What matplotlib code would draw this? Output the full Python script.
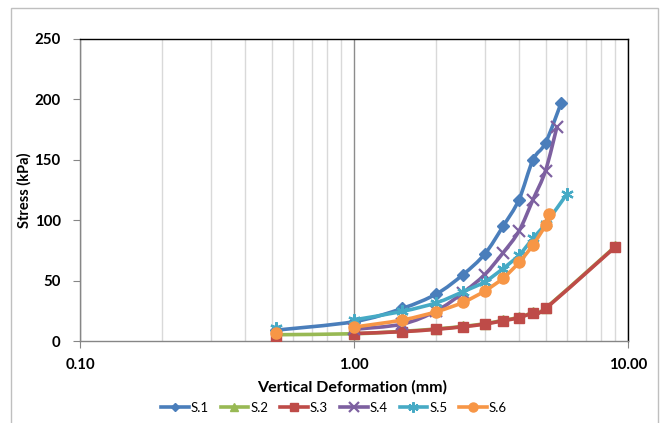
import numpy as np
import matplotlib
matplotlib.use("Agg")
import matplotlib.pyplot as plt
from matplotlib.path import Path
from matplotlib.patches import PathPatch, Rectangle
from matplotlib.lines import Line2D
from matplotlib.ticker import FixedLocator, FixedFormatter, LogLocator, NullFormatter

# ---------------- data ----------------
series_names = ["S.1", "S.2", "S.3", "S.4", "S.5", "S.6"]

s1_x = [0.52, 1.0, 1.5, 2.0, 2.5, 3.0, 3.5, 4.0, 4.5, 5.0, 5.7]
s1_y = [9, 16, 27, 39, 55, 72, 95, 117, 150, 164, 197]

s2_x = [0.52, 1.0, 1.5, 2.0, 2.5, 3.0, 3.5, 4.0, 4.5, 5.0, 9.0]
s2_y = [5.2, 6.0, 8.0, 10.0, 12.1, 14.3, 17.1, 19.6, 23.7, 27.3, 78.4]

s3_x = [0.52, 1.0, 1.5, 2.0, 2.5, 3.0, 3.5, 4.0, 4.5, 5.0, 9.0]
s3_y = [3.5, 6.2, 7.7, 9.7, 11.8, 14.0, 16.8, 19.3, 23.4, 27.0, 78.0]

s4_x = [1.0, 1.5, 2.0, 2.5, 3.0, 3.5, 4.0, 4.5, 5.0, 5.5]
s4_y = [9.7, 14, 25, 40, 55, 73, 91, 117, 141, 177]

s5_x = [0.52, 1.0, 1.5, 2.0, 2.5, 3.0, 3.5, 4.0, 4.5, 5.0, 6.0]
s5_y = [10.5, 17.5, 24.5, 31.7, 40.8, 49, 60, 71, 85, 97, 122]

s6_x = [0.52, 1.0, 1.5, 2.0, 2.5, 3.0, 3.5, 4.0, 4.5, 5.0, 5.15]
s6_y = [6.5, 11.5, 17.4, 24.3, 32, 41.4, 52, 65, 79.5, 96, 105]

# first point index from which the line is drawn (markers before it stand alone)
line_start = [0, 0, 1, 0, 1, 1]

x_ticks = [0.1, 1.0, 10.0]
x_tick_labels = ["0.10", "1.00", "10.00"]
y_ticks = [0, 50, 100, 150, 200, 250]

# ---------------- styling ----------------
colors = ["#4A7EBB", "#98B954", "#BE4B48", "#7D60A0", "#46AAC5", "#F79646"]
markers = ["D", "^", "s", "x", (6, 2, 0), "o"]
msizes = [6, 7, 7, 8, 9, 8]

plt.rcParams["font.family"] = ["Lato", "DejaVu Sans"]

W, H = 661, 423
fig = plt.figure(figsize=(W / 100, H / 100), dpi=100)
fig.patch.set_facecolor("white")

left, right, top, bottom = 80, 628, 39, 341
ax = fig.add_axes([left / W, 1 - bottom / H, (right - left) / W, (bottom - top) / H])

ax.set_xscale("log")
ax.set_xlim(0.1, 10)
ax.set_ylim(0, 250)


def smooth_path(xs, ys):
    lx = np.log10(np.asarray(xs, float))
    pts = np.column_stack([lx, np.asarray(ys, float)])
    n = len(pts)
    verts = [pts[0]]
    codes = [Path.MOVETO]
    for i in range(n - 1):
        p0 = pts[i - 1] if i > 0 else pts[i]
        p1 = pts[i]
        p2 = pts[i + 1]
        p3 = pts[i + 2] if i + 2 < n else pts[i + 1]
        c1 = p1 + (p2 - p0) / 6.0
        c2 = p2 - (p3 - p1) / 6.0
        verts += [c1, c2, p2]
        codes += [Path.CURVE4] * 3
    verts = np.array(verts)
    verts[:, 0] = 10 ** verts[:, 0]
    return Path(verts, codes)


all_x = [s1_x, s2_x, s3_x, s4_x, s5_x, s6_x]
all_y = [s1_y, s2_y, s3_y, s4_y, s5_y, s6_y]

handles = []
for k in range(6):
    xs, ys = all_x[k], all_y[k]
    st = line_start[k]
    p = smooth_path(xs[st:], ys[st:])
    ax.add_patch(PathPatch(p, facecolor="none", edgecolor=colors[k], lw=2.6,
                           zorder=3 + k * 0.1, capstyle="round", joinstyle="round"))
    mew = 1.6 if markers[k] in ("x",) or isinstance(markers[k], tuple) else 1.0
    ax.plot(xs, ys, linestyle="none", marker=markers[k], ms=msizes[k],
            color=colors[k], mec=colors[k], mew=mew, zorder=3.05 + k * 0.1)
    handles.append(Line2D([], [], color=colors[k], lw=2.6, marker=markers[k],
                          ms=msizes[k] - 1.5, mew=mew))

# grid
ax.xaxis.set_major_locator(FixedLocator(x_ticks))
ax.xaxis.set_major_formatter(FixedFormatter(x_tick_labels))
ax.xaxis.set_minor_locator(LogLocator(base=10, subs=np.arange(2, 10)))
ax.xaxis.set_minor_formatter(NullFormatter())
ax.set_yticks(y_ticks)
ax.grid(which="minor", axis="x", color="#D9D9D9", lw=1.0, zorder=0)
ax.grid(which="major", axis="x", color="#8C8C8C", lw=1.0, zorder=0)
ax.set_axisbelow(True)

for s in ["left", "bottom"]:
    ax.spines[s].set_color("#868686")
    ax.spines[s].set_linewidth(1.0)
for s in ["top", "right"]:
    ax.spines[s].set_color("black")
    ax.spines[s].set_linewidth(1.0)

ax.tick_params(axis="both", which="major", direction="out", length=5,
               color="#868686", labelsize=10.8, pad=3)
ax.tick_params(axis="y", pad=9)
ax.tick_params(axis="x", pad=7)
ax.tick_params(axis="x", which="minor", length=0)
for lbl in ax.get_xticklabels() + ax.get_yticklabels():
    lbl.set_fontweight("bold")

ax.set_xlabel("Vertical Deformation (mm)", fontsize=11.5, fontweight="bold")
ax.set_ylabel("Stress (kPa)", fontsize=10.5, fontweight="bold")
ax.xaxis.set_label_coords((352.5 - left) / (right - left), -(380.5 - bottom) / (bottom - top))
ax.yaxis.set_label_coords(-(80 - 32) / (right - left), 0.5)

fig.legend(handles, series_names, loc="center", bbox_to_anchor=(334 / W, 1 - 408 / H),
           ncol=6, frameon=False, fontsize=9.5, handlelength=2.1, handletextpad=0.15,
           columnspacing=0.9, borderaxespad=0, borderpad=0)

# outer chart border
fig.patches.append(Rectangle((11 / W, -0.02), (658 - 11) / W, (H - 8) / H + 0.02,
                             transform=fig.transFigure, fill=False,
                             edgecolor="#BFBFBF", lw=1.0, zorder=-1))

fig.savefig("out.png", dpi=100, facecolor="white")
